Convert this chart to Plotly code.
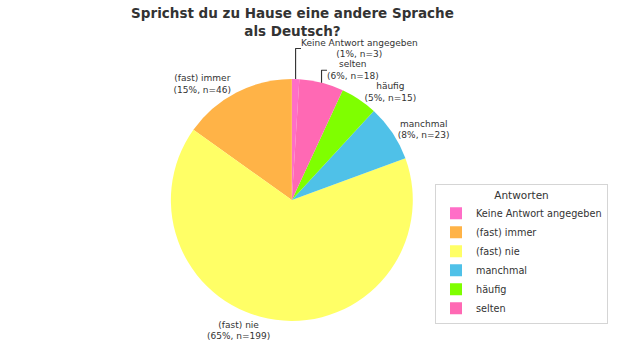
import plotly.graph_objects as go

labels = ["Keine Antwort angegeben", "(fast) immer", "(fast) nie", "manchmal", "häufig", "selten"]
counts = [3, 46, 199, 23, 15, 18]
colors = ["#FF6EC7", "#FFB347", "#FFFF66", "#4FC1E8", "#7FFF00", "#FF69B4"]

fig = go.Figure(go.Pie(
    labels=labels,
    values=counts,
    sort=False,
    direction="counterclockwise",
    rotation=0,
    marker=dict(colors=colors, line=dict(width=0)),
    textposition="outside",
    texttemplate="%{label}<br>(%{percent:.0%}, n=%{value})",
    textfont=dict(family="DejaVu Sans", size=9, color="#333333"),
    domain=dict(x=[0.267, 0.645], y=[0.108, 0.781]),
    automargin=False,
    hoverinfo="label+value+percent",
))

fig.update_layout(
    width=640, height=360,
    margin=dict(l=0, r=0, t=0, b=0, autoexpand=False),
    paper_bgcolor="white",
    plot_bgcolor="white",
    font=dict(family="DejaVu Sans", color="#333333"),
    title=dict(
        text="<b>Sprichst du zu Hause eine andere Sprache<br>als Deutsch?</b>",
        x=0.457, xanchor="center", y=0.95, yanchor="top",
        font=dict(family="DejaVu Sans", size=13.5, color="#333333"),
    ),
    legend=dict(
        title=dict(text="Antworten", side="top center", font=dict(size=10.5)),
        x=0.95, xanchor="right", y=0.294, yanchor="middle",
        bordercolor="#d5d5d5", borderwidth=1,
        font=dict(family="DejaVu Sans", size=9.7, color="#333333"),
        itemsizing="constant",
        tracegroupgap=0,
    ),
)

fig.write_html("out.html", config={"displayModeBar": False},
               post_script="document.body.style.margin='0';")
